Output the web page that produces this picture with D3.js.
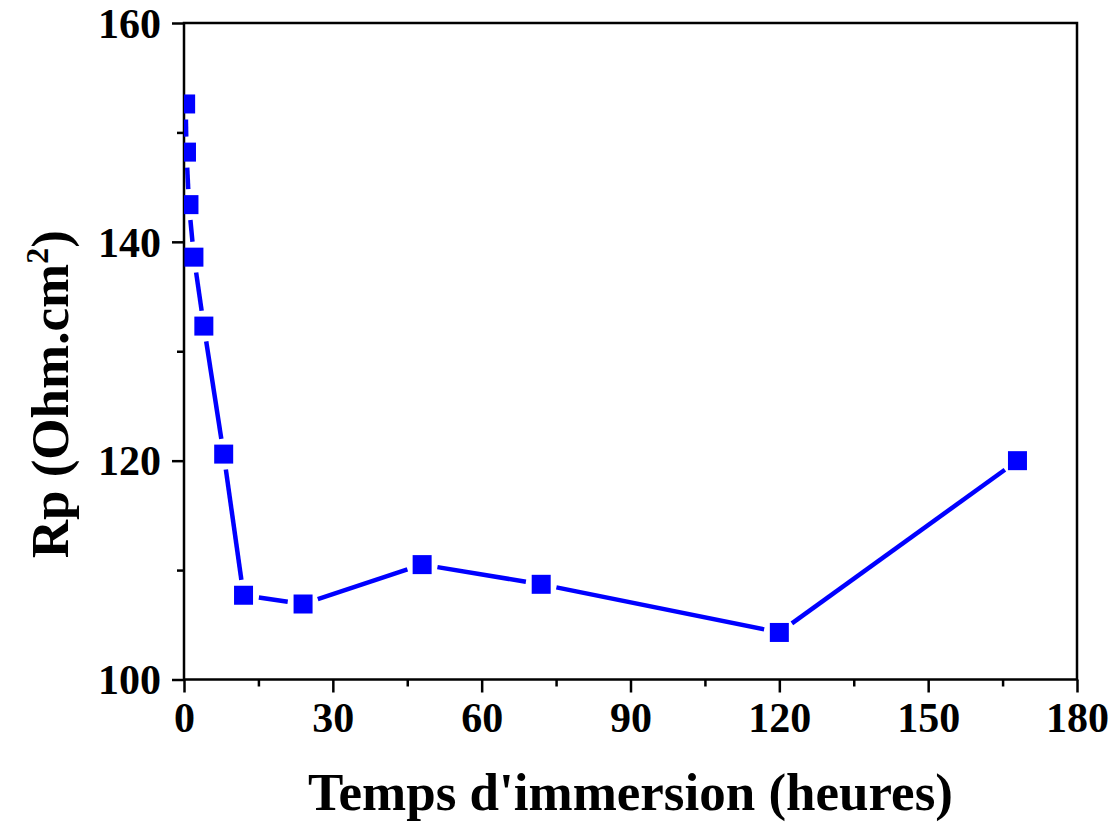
<!DOCTYPE html>
<html>
<head>
<meta charset="utf-8">
<script src="https://cdn.jsdelivr.net/npm/d3@7"></script>
<style>
  html, body { margin: 0; padding: 0; background: #fff; }
  svg { display: block; }
  text { font-family: "Liberation Serif", "Times New Roman", serif; font-weight: bold; fill: #000; }
</style>
</head>
<body>
<svg id="chart" width="1110" height="824"></svg>
<script>
// Immersion time (hours) and polarization resistance Rp (Ohm.cm²)
const hours = [0.33, 0.5, 1, 2, 4, 8, 12, 24, 48, 72, 120, 168];
const rp = [152.6, 148.2, 143.4, 138.6, 132.3, 120.6, 107.7, 106.9, 110.5, 108.7, 104.3, 120.0];

const xMajorTicks = [0, 30, 60, 90, 120, 150, 180];
const xMinorTicks = [15, 45, 75, 105, 135, 165];
const yMajorTicks = [100, 120, 140, 160];
const yMinorTicks = [110, 130, 150];

const xTitle = "Temps d'immersion (heures)";

const svg = d3.select("#chart");
const margin = { left: 184, top: 23, right: 33, bottom: 144.5 };
const W = 1110 - margin.left - margin.right;
const H = 824 - margin.top - margin.bottom;

const x = d3.scaleLinear().domain([0, 180]).range([0, W]);
const y = d3.scaleLinear().domain([100, 160]).range([H, 0]);

const g = svg.append("g").attr("transform", `translate(${margin.left},${margin.top})`);

g.append("clipPath").attr("id", "plotClip")
  .append("rect").attr("x", 0).attr("y", 0).attr("width", W).attr("height", H);

// Axes: major + minor ticks pointing outward
function styleAxis(sel) {
  sel.select(".domain").remove();
  sel.selectAll(".tick line").attr("stroke", "#000").attr("stroke-width", 2.5);
  sel.selectAll("text").style("font-size", "42px");
}

const xAxisMajor = g.append("g").attr("transform", `translate(0,${H})`)
  .call(d3.axisBottom(x).tickValues(xMajorTicks).tickSize(13).tickPadding(10).tickFormat(d3.format("d")));
styleAxis(xAxisMajor);
const xAxisMinor = g.append("g").attr("transform", `translate(0,${H})`)
  .call(d3.axisBottom(x).tickValues(xMinorTicks).tickSize(7).tickFormat(""));
styleAxis(xAxisMinor);

const yAxisMajor = g.append("g")
  .call(d3.axisLeft(y).tickValues(yMajorTicks).tickSize(12).tickPadding(11).tickFormat(d3.format("d")));
styleAxis(yAxisMajor);
yAxisMajor.selectAll("text").attr("dy", "0.34em");
const yAxisMinor = g.append("g")
  .call(d3.axisLeft(y).tickValues(yMinorTicks).tickSize(7).tickFormat(""));
styleAxis(yAxisMinor);

// Frame
g.append("rect").attr("x", 0).attr("y", 0).attr("width", W).attr("height", H)
  .attr("fill", "none").attr("stroke", "#000").attr("stroke-width", 2.5);

// Data
const pts = hours.map((h, i) => ({ px: x(h), py: y(rp[i]) }));
const plot = g.append("g").attr("clip-path", "url(#plotClip)");

// Connecting segments, stopped short of each symbol
const gap = 15.5;
const segs = [];
for (let i = 0; i < pts.length - 1; i++) {
  const a = pts[i], b = pts[i + 1];
  const dx = b.px - a.px, dy = b.py - a.py;
  const len = Math.hypot(dx, dy);
  if (len <= 2 * gap) continue;
  const ux = dx / len, uy = dy / len;
  segs.push({ x1: a.px + ux * gap, y1: a.py + uy * gap, x2: b.px - ux * gap, y2: b.py - uy * gap });
}
plot.selectAll("line.seg").data(segs).enter().append("line")
  .attr("class", "seg")
  .attr("x1", d => d.x1).attr("y1", d => d.y1)
  .attr("x2", d => d.x2).attr("y2", d => d.y2)
  .attr("stroke", "#0000ff").attr("stroke-width", 4.5);

const sym = 19;
plot.selectAll("rect.pt").data(pts).enter().append("rect")
  .attr("class", "pt")
  .attr("x", d => d.px - sym / 2).attr("y", d => d.py - sym / 2)
  .attr("width", sym).attr("height", sym)
  .attr("fill", "#0000ff");

// Axis titles
svg.append("text")
  .attr("x", margin.left + W / 2).attr("y", 810)
  .attr("text-anchor", "middle")
  .style("font-size", "53px")
  .text(xTitle);

const yt = svg.append("text")
  .attr("transform", `translate(68,${margin.top + H / 2 + 43}) rotate(-90)`)
  .attr("text-anchor", "middle")
  .style("font-size", "53px");
yt.append("tspan").text("Rp (Ohm.cm");
yt.append("tspan").attr("dy", "-0.62em").style("font-size", "32px").text("2");
yt.append("tspan").attr("dy", "0.38em").text(")");
</script>
</body>
</html>
